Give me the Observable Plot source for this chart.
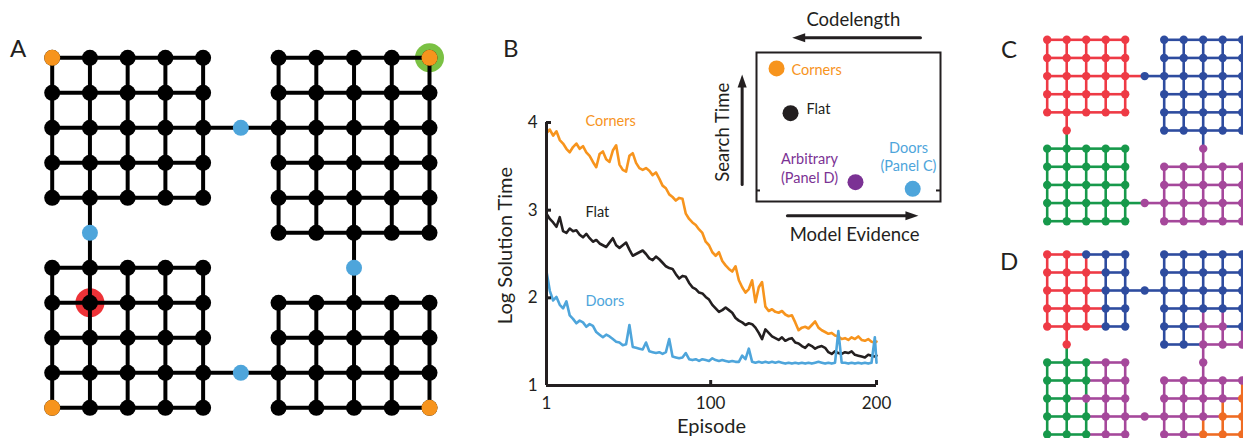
<!DOCTYPE html>
<html>
<head>
<meta charset="utf-8">
<script src="https://cdn.jsdelivr.net/npm/d3@7"></script>
<script src="https://cdn.jsdelivr.net/npm/@observablehq/plot@0.6"></script>
<style>
  html, body { margin: 0; padding: 0; background: #fff; overflow: hidden; }
  #fig { position: relative; width: 1243px; height: 438px; overflow: hidden; font-family: Lato, sans-serif; background: #fff; }
  .panel-letter { position: absolute; font-family: Lato, sans-serif; font-size: 24px; line-height: 24px; color: #231f20; }
</style>
</head>
<body>
<div id="fig"></div>
<script>
// ---------------- DATA ----------------
// Gridworld structure (shared by panels A, C, D)
const rooms = [
  {id: "TL", x0: 0, y0: 0, cols: 5, rows: 5},
  {id: "TR", x0: 6, y0: 0, cols: 5, rows: 6},
  {id: "BL", x0: 0, y0: 6, cols: 5, rows: 5},
  {id: "BR", x0: 6, y0: 7, cols: 5, rows: 4}
];
const doors = [
  {x: 5, y: 2, ends: [[4, 2], [6, 2]]},
  {x: 1, y: 5, ends: [[1, 4], [1, 6]]},
  {x: 8, y: 6, ends: [[8, 5], [8, 7]]},
  {x: 5, y: 9, ends: [[4, 9], [6, 9]]}
];
const cornerStates = [[0, 0], [10, 0], [0, 10], [10, 10]];
const goalStates = [[10, 0]];
const startStates = [[1, 7]];

// Panel C partition (one colour per room) and panel D partition (per state)
const panelCRooms = {TL: "R", TR: "B", BL: "G", BR: "P"};
const panelCDoors = ["B", "R", "P", "P"];
const panelDRooms = {
  TL: ["RRBBB", "RRRBB", "RRRBB", "RRRBB", "RRRBB"],
  TR: ["BBBBB", "BBBBB", "BBBBB", "BBBBB", "BBPPB", "BBPPP"],
  BL: ["GGGPP", "GGGPP", "GGPPP", "GGGPP", "GGGPP"],
  BR: ["PPPPP", "PPPPO", "PPPOO", "PPOOO"]
};
const panelDDoors = ["B", "R", "P", "P"];

// Panel B: learning curves (log solution time per episode)
const episodes = d3.range(1, 200, 2).concat([200]);
const cornersSeries = [
  3.88,3.92,3.85,3.9,3.8,3.76,3.7,3.66,3.72,3.76,
  3.7,3.73,3.66,3.62,3.55,3.49,3.64,3.67,3.58,3.55,
  3.68,3.74,3.52,3.46,3.44,3.62,3.65,3.54,3.48,3.46,
  3.48,3.45,3.4,3.43,3.36,3.28,3.25,3.18,3.15,3.11,
  3.14,3.13,2.96,2.9,2.86,2.83,2.78,2.74,2.64,2.6,
  2.52,2.48,2.52,2.42,2.37,2.33,2.3,2.36,2.2,2.12,
  2.06,2.1,2.2,1.95,2.12,2.18,1.9,1.85,1.87,1.84,
  1.83,1.85,1.81,1.79,1.8,1.72,1.63,1.66,1.67,1.65,
  1.69,1.73,1.66,1.63,1.61,1.59,1.6,1.57,1.56,1.53,
  1.54,1.52,1.55,1.53,1.56,1.52,1.51,1.53,1.5,1.49,
  1.5
];
const flatSeries = [
  2.96,2.9,2.86,2.81,2.92,2.76,2.74,2.79,2.76,2.77,
  2.72,2.69,2.73,2.68,2.64,2.66,2.62,2.6,2.58,2.63,
  2.68,2.6,2.57,2.6,2.63,2.55,2.48,2.5,2.52,2.54,
  2.5,2.45,2.43,2.47,2.44,2.4,2.36,2.34,2.33,2.27,
  2.22,2.25,2.24,2.17,2.12,2.1,2.06,2.05,2.01,1.98,
  1.92,1.88,1.84,1.86,1.89,1.86,1.83,1.77,1.74,1.72,
  1.69,1.71,1.7,1.66,1.6,1.53,1.64,1.6,1.56,1.54,
  1.52,1.55,1.51,1.53,1.54,1.49,1.48,1.45,1.43,1.47,
  1.45,1.42,1.44,1.45,1.43,1.38,1.36,1.39,1.37,1.36,
  1.38,1.37,1.39,1.35,1.34,1.33,1.32,1.35,1.34,1.33,
  1.34
];
const doorsSeries = [
  2.3,2.08,1.97,2.01,1.92,1.88,1.96,1.8,1.76,1.71,
  1.74,1.72,1.67,1.7,1.68,1.61,1.58,1.55,1.58,1.56,
  1.53,1.5,1.49,1.46,1.47,1.69,1.44,1.43,1.42,1.41,
  1.49,1.39,1.38,1.37,1.38,1.36,1.38,1.53,1.33,1.32,
  1.31,1.32,1.37,1.3,1.29,1.3,1.28,1.3,1.29,1.28,
  1.31,1.29,1.28,1.29,1.28,1.27,1.28,1.27,1.27,1.34,
  1.3,1.42,1.27,1.26,1.27,1.26,1.27,1.26,1.27,1.26,
  1.27,1.26,1.25,1.26,1.25,1.26,1.25,1.26,1.25,1.26,
  1.25,1.26,1.27,1.26,1.25,1.26,1.25,1.26,1.62,1.26,
  1.26,1.25,1.26,1.25,1.26,1.25,1.26,1.25,1.26,1.55,
  1.26
];
const yTicks = [1, 2, 3, 4];
const xTicks = [1, 100, 200];
const seriesLabels = [
  {name: "Corners", ep: 24.5, v: 4.01, key: "orange"},
  {name: "Flat", ep: 24.5, v: 2.97, key: "ink"},
  {name: "Doors", ep: 24.5, v: 1.96, key: "lblue"}
];

// Panel B inset (schematic: model evidence vs search time)
const insetPoints = [
  {name: "Corners", ev: 1.09, st: 8.93, key: "orange"},
  {name: "Flat", ev: 1.85, st: 5.93, key: "ink"},
  {name: "Arbitrary", ev: 5.38, st: 1.3, key: "violet"},
  {name: "Doors", ev: 8.49, st: 0.85, key: "lblue"}
];
const insetLabels = [
  {text: "Corners", ev: 1.9, st: 8.86, anchor: "start", key: "orange"},
  {text: "Flat", ev: 2.72, st: 6.24, anchor: "start", key: "ink"},
  {text: "Arbitrary\n(Panel D)", ev: 2.88, st: 2.27, anchor: "middle", key: "violet"},
  {text: "Doors\n(Panel C)", ev: 8.26, st: 3.05, anchor: "middle", key: "lblue"}
];
const insetArrows = [
  {x1: 8.91, y1: 10.99, x2: 1.94, y2: 10.99, rotate: -90},
  {x1: -0.78, y1: 1.14, x2: -0.78, y2: 8.52, rotate: 0},
  {x1: 1.68, y1: -0.96, x2: 8.8, y2: -0.96, rotate: 90}
];
const insetTitles = [
  {text: "Codelength", ev: 5.26, st: 12.2, rotate: 0},
  {text: "Search Time", ev: -1.81, st: 4.65, rotate: -90},
  {text: "Model Evidence", ev: 5.33, st: -2.28, rotate: 0}
];
const insetTicks = [0.74];

const panelLetters = [
  {text: "A", left: 10, top: 36},
  {text: "B", left: 503, top: 36},
  {text: "C", left: 1001, top: 37},
  {text: "D", left: 1000, top: 249}
];

// ---------------- STYLE ----------------
const palette = {
  K: "#000000", L: "#4ea5db",
  R: "#ee3a45", B: "#2e4c9f", G: "#17994b", P: "#a5489b", O: "#ef6c23",
  orange: "#f7941d", ink: "#231f20", lblue: "#4ea5db", violet: "#7b3294",
  green: "#7ac143", red: "#ed3237"
};
const FONT = "Lato, sans-serif";
const fig = document.getElementById("fig");
function place(el, left, top) {
  el.style.position = "absolute";
  el.style.left = left + "px";
  el.style.top = top + "px";
  fig.appendChild(el);
}

// ---------------- GRAPH BUILDER ----------------
const hPri = ["R", "B", "P", "G", "O", "K"];
const vPri = ["R", "G", "O", "P", "B", "K"];
function pick(a, b, pri) {
  if (a === b) return a;
  return pri.indexOf(a) < pri.indexOf(b) ? a : b;
}
function buildGraph(colorOf, doorColors) {
  const nodes = [], edges = [], at = new Map();
  for (const room of rooms) {
    for (let r = 0; r < room.rows; r++) for (let c = 0; c < room.cols; c++) {
      const col = colorOf(room, r, c);
      nodes.push({x: room.x0 + c, y: room.y0 + r, color: col});
      at.set((room.x0 + c) + "," + (room.y0 + r), col);
    }
  }
  for (const room of rooms) {
    for (let r = 0; r < room.rows; r++) for (let c = 0; c < room.cols; c++) {
      const x = room.x0 + c, y = room.y0 + r;
      if (c + 1 < room.cols) edges.push({x1: x, y1: y, x2: x + 1, y2: y, color: pick(at.get(x + "," + y), at.get((x + 1) + "," + y), hPri)});
      if (r + 1 < room.rows) edges.push({x1: x, y1: y, x2: x, y2: y + 1, color: pick(at.get(x + "," + y), at.get(x + "," + (y + 1)), vPri)});
    }
  }
  doors.forEach((d, i) => {
    nodes.push({x: d.x, y: d.y, color: doorColors[i]});
    for (const [ex, ey] of d.ends) edges.push({x1: ex, y1: ey, x2: d.x, y2: d.y, color: at.get(ex + "," + ey)});
  });
  return {nodes, edges};
}
function gridPlot(graph, o) {
  return Plot.plot({
    width: o.width, height: o.height,
    marginLeft: o.mL, marginRight: o.mR, marginTop: o.mT, marginBottom: o.mB,
    x: {domain: [0, 10], axis: null},
    y: {domain: [0, 10], reverse: true, axis: null},
    color: {type: "identity"},
    style: {overflow: "visible", background: "transparent", fontFamily: FONT},
    marks: [
      ...(o.under || []),
      Plot.link(graph.edges, {x1: "x1", y1: "y1", x2: "x2", y2: "y2", stroke: d => palette[d.color], strokeWidth: o.sw}),
      Plot.dot(graph.nodes, {x: "x", y: "y", r: o.r, fill: d => palette[d.color]}),
      ...(o.over || [])
    ]
  });
}

// ---------------- PANEL A ----------------
const graphA = buildGraph(() => "K", doors.map(() => "L"));
const plotA = gridPlot(graphA, {
  width: 470, height: 438, mL: 51.7, mR: 41, mT: 57.3, mB: 30.7, sw: 4, r: 8,
  under: [
    Plot.dot(goalStates, {x: d => d[0], y: d => d[1], r: 14.5, fill: palette.green}),
    Plot.dot(startStates, {x: d => d[0], y: d => d[1], r: 14.5, fill: palette.red})
  ],
  over: [
    Plot.dot(cornerStates, {x: d => d[0], y: d => d[1], r: 8, fill: palette.orange})
  ]
});
place(plotA, 0, 0);

// ---------------- PANEL B (main) ----------------
const mk = (arr) => arr.map((v, i) => ({ep: episodes[i], v}));
const plotB = Plot.plot({
  width: 420, height: 438,
  marginLeft: 66, marginRight: 24, marginTop: 122, marginBottom: 53,
  x: {domain: [1, 200], label: null},
  y: {domain: [1, 4], label: null},
  style: {overflow: "visible", background: "transparent", fontFamily: FONT, color: palette.ink},
  marks: [
    Plot.line(mk(cornersSeries), {x: "ep", y: "v", stroke: palette.orange, strokeWidth: 2.6}),
    Plot.line(mk(flatSeries), {x: "ep", y: "v", stroke: palette.ink, strokeWidth: 2.6}),
    Plot.line(mk(doorsSeries), {x: "ep", y: "v", stroke: palette.lblue, strokeWidth: 2.6}),
    Plot.ruleX([xTicks[0]], {x: d => d, stroke: palette.ink, strokeWidth: 3}),
    Plot.ruleY([yTicks[0]], {y: d => d, stroke: palette.ink, strokeWidth: 3}),
    Plot.tickY(yTicks.slice(1), {y: d => d, stroke: palette.ink, strokeWidth: 3, insetRight: 325}),
    Plot.tickX(xTicks.slice(1), {x: d => d, stroke: palette.ink, strokeWidth: 3, insetTop: 258}),
    Plot.axisY({ticks: yTicks, tickFormat: "d", tickSize: 0, tickPadding: 9, fontSize: 17, fill: palette.ink, label: null}),
    Plot.axisX({ticks: xTicks, tickFormat: "d", tickSize: 0, tickPadding: 11, fontSize: 17, fill: palette.ink, label: null}),
    Plot.text(["Episode"], {text: d => d, frameAnchor: "bottom", lineAnchor: "middle", dy: 41, fontSize: 20, fill: palette.ink}),
    Plot.text(["Log Solution Time"], {text: d => d, frameAnchor: "left", textAnchor: "middle", lineAnchor: "middle", dx: -41, dy: -8.5, rotate: -90, fontSize: 20, fill: palette.ink}),
    Plot.text(seriesLabels, {x: "ep", y: "v", text: "name", fill: d => palette[d.key], textAnchor: "start", fontSize: 14.5})
  ]
});
place(plotB, 480, 0);

// ---------------- PANEL B (inset) ----------------
const arrowHead = {
  draw(ctx, size) {
    const r = Math.sqrt(size / Math.PI);
    const L = 2 * r, w = 0.7 * r;
    ctx.moveTo(0, 0); ctx.lineTo(w, L); ctx.lineTo(-w, L); ctx.closePath();
  }
};
const plotInset = Plot.plot({
  width: 245, height: 245,
  marginLeft: 56, marginRight: 5, marginTop: 52, marginBottom: 44,
  x: {domain: [0, 10], axis: null},
  y: {domain: [0, 10], axis: null},
  style: {overflow: "visible", background: "transparent", fontFamily: FONT},
  marks: [
    Plot.frame({stroke: palette.ink, strokeWidth: 2}),
    Plot.tickY(insetTicks, {y: d => d, stroke: palette.ink, strokeWidth: 2, insetRight: 180}),
    Plot.tickY(insetTicks, {y: d => d, stroke: palette.ink, strokeWidth: 2, insetLeft: 180}),
    Plot.dot(insetPoints, {x: "ev", y: "st", r: 8, fill: d => palette[d.key]}),
    Plot.text(insetLabels.filter(d => d.anchor === "start"), {x: "ev", y: "st", text: "text", textAnchor: "start", fill: d => palette[d.key], fontSize: 14.5, lineHeight: 1.28}),
    Plot.text(insetLabels.filter(d => d.anchor === "middle"), {x: "ev", y: "st", text: "text", textAnchor: "middle", fill: d => palette[d.key], fontSize: 14.5, lineHeight: 1.28}),
    Plot.arrow(insetArrows, {x1: "x1", y1: "y1", x2: "x2", y2: "y2", stroke: palette.ink, strokeWidth: 3, headLength: 0, insetEnd: 10}),
    Plot.dot(insetArrows, {x: "x2", y: "y2", rotate: "rotate", symbol: arrowHead, r: 6.5, fill: palette.ink}),
    Plot.text(insetTitles, {x: "ev", y: "st", text: "text", rotate: "rotate", fontSize: 18.5, fill: palette.ink})
  ]
});
place(plotInset, 700, 0);

// ---------------- PANELS C and D ----------------
const graphC = buildGraph((room) => panelCRooms[room.id], panelCDoors);
const plotC = gridPlot(graphC, {width: 253, height: 230, mL: 56.7, mR: 1.3, mT: 39.3, mB: 9.3, sw: 2.6, r: 4.2});
place(plotC, 990, 0);

const graphD = buildGraph((room, r, c) => panelDRooms[room.id][r][c], panelDDoors);
const plotD = gridPlot(graphD, {width: 253, height: 223, mL: 56.7, mR: 1.3, mT: 39, mB: 4, sw: 2.6, r: 4.2});
place(plotD, 990, 215);

// ---------------- PANEL LETTERS ----------------
for (const p of panelLetters) {
  const d = document.createElement("div");
  d.className = "panel-letter";
  d.textContent = p.text;
  d.style.left = p.left + "px";
  d.style.top = p.top + "px";
  fig.appendChild(d);
}
</script>
</body>
</html>
